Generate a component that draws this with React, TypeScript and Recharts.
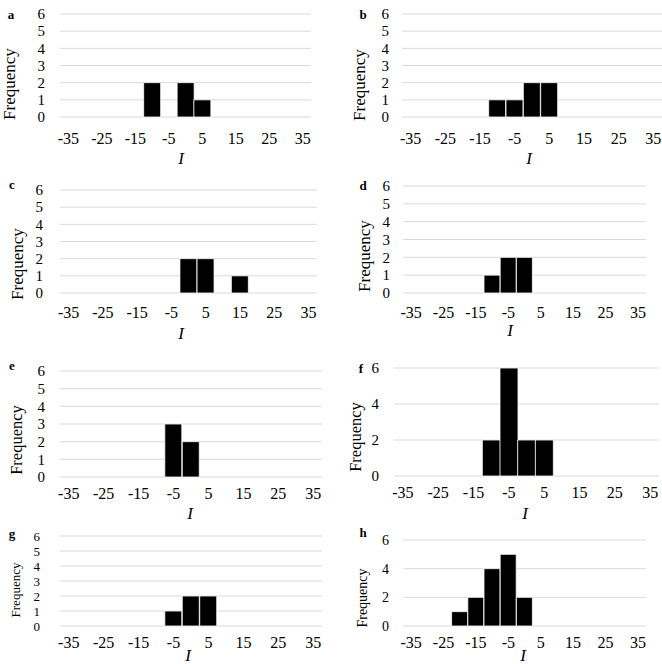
import React from 'react';
import { BarChart, Bar, XAxis, YAxis, CartesianGrid } from 'recharts';

// bin centres of I (width 5)
const bins = [-35, -30, -25, -20, -15, -10, -5, 0, 5, 10, 15, 20, 25, 30, 35];

// frequency per bin for each panel
const countsA = [0, 0, 0, 0, 0, 2, 0, 2, 1, 0, 0, 0, 0, 0, 0];
const countsB = [0, 0, 0, 0, 0, 1, 1, 2, 2, 0, 0, 0, 0, 0, 0];
const countsC = [0, 0, 0, 0, 0, 0, 0, 2, 2, 0, 1, 0, 0, 0, 0];
const countsD = [0, 0, 0, 0, 0, 1, 2, 2, 0, 0, 0, 0, 0, 0, 0];
const countsE = [0, 0, 0, 0, 0, 0, 3, 2, 0, 0, 0, 0, 0, 0, 0];
const countsF = [0, 0, 0, 0, 0, 2, 6, 2, 2, 0, 0, 0, 0, 0, 0];
const countsG = [0, 0, 0, 0, 0, 0, 1, 2, 2, 0, 0, 0, 0, 0, 0];
const countsH = [0, 0, 0, 1, 2, 4, 5, 2, 0, 0, 0, 0, 0, 0, 0];

const ticksFine = [0, 1, 2, 3, 4, 5, 6];
const ticksCoarse = [0, 2, 4, 6];

const FONT = "'Liberation Serif', 'Tinos', 'Times New Roman', 'DejaVu Serif', serif";

interface Panel {
  letter: string;
  counts: number[];
  yTicks: number[];
  col: number; // left of column
  L: number; R: number; T: number; B: number; // plot rect
  xMargin: number; yMargin: number;
  freq: [number, number, number]; // cx, cy, font size
  letterPos: [number, number];
  iPos: [number, number];
  yFont: number;
}

const panels: Panel[] = [
  { letter: 'a', counts: countsA, yTicks: ticksFine, col: 0, L: 60, R: 311, T: 14, B: 117, xMargin: 10, yMargin: 9, freq: [9, 84, 17], letterPos: [11, 14], iPos: [181, 158], yFont: 15 },
  { letter: 'b', counts: countsB, yTicks: ticksFine, col: 331, L: 402, R: 662, T: 14, B: 117, xMargin: 10, yMargin: 7, freq: [359, 85, 17], letterPos: [363, 14], iPos: [529, 158], yFont: 15 },
  { letter: 'c', counts: countsC, yTicks: ticksFine, col: 0, L: 60, R: 317, T: 190, B: 293, xMargin: 8, yMargin: 11, freq: [17, 264, 17], letterPos: [12, 184], iPos: [181, 333], yFont: 15 },
  { letter: 'd', counts: countsD, yTicks: ticksFine, col: 331, L: 403, R: 646, T: 186, B: 293, xMargin: 8, yMargin: 7, freq: [364, 256, 17], letterPos: [363, 185], iPos: [510, 330], yFont: 15 },
  { letter: 'e', counts: countsE, yTicks: ticksFine, col: 0, L: 60, R: 322, T: 371, B: 477, xMargin: 5, yMargin: 9, freq: [17, 440, 16.5], letterPos: [12, 365], iPos: [190, 513], yFont: 15 },
  { letter: 'f', counts: countsF, yTicks: ticksCoarse, col: 331, L: 394, R: 659, T: 368, B: 476, xMargin: 5, yMargin: 9, freq: [356, 437, 16.5], letterPos: [361, 368], iPos: [525, 513], yFont: 15 },
  { letter: 'g', counts: countsG, yTicks: ticksFine, col: 0, L: 60, R: 322, T: 536, B: 626, xMargin: 5, yMargin: 14, freq: [15, 590, 13], letterPos: [12, 533], iPos: [188, 655], yFont: 13 },
  { letter: 'h', counts: countsH, yTicks: ticksCoarse, col: 331, L: 403, R: 646, T: 540, B: 626, xMargin: 5, yMargin: 8, freq: [363, 598, 14], letterPos: [363, 532], iPos: [523, 655], yFont: 14 },
];

const TOP_PAD = 10;
const X_AXIS_H = 30;

const HistPanel: React.FC<{ p: Panel }> = ({ p }) => {
  const data = bins.map((b, i) => ({ bin: b, count: p.counts[i] }));
  const width = p.R - p.col;
  const height = p.B - p.T + TOP_PAD + X_AXIS_H;
  return (
    <>
      <div style={{ position: 'absolute', left: p.col, top: p.T - TOP_PAD, fontFamily: FONT }}>
        <BarChart
          width={width}
          height={height}
          data={data}
          margin={{ top: TOP_PAD, right: 0, left: 0, bottom: 0 }}
          barCategoryGap={0}
        >
          <CartesianGrid vertical={false} stroke="#d9d9d9" strokeWidth={1} />
          <XAxis
            dataKey="bin"
            interval={1}
            axisLine={false}
            tickLine={false}
            height={X_AXIS_H}
            tickMargin={p.xMargin}
            tick={{ fill: '#000', fontSize: 16, fontFamily: FONT }}
          />
          <YAxis
            domain={[0, 6]}
            ticks={p.yTicks}
            interval={0}
            width={p.L - p.col}
            axisLine={false}
            tickLine={false}
            tickMargin={p.yMargin}
            tick={{ fill: '#000', fontSize: p.yFont, fontFamily: FONT }}
          />
          <Bar dataKey="count" fill="#000" stroke="#fff" strokeWidth={0.8} isAnimationActive={false} />
        </BarChart>
      </div>
      <div
        style={{
          position: 'absolute', left: p.letterPos[0], top: p.letterPos[1],
          transform: 'translate(-50%, -50%)', fontFamily: FONT, fontWeight: 'bold', fontSize: 13, lineHeight: 1,
        }}
      >
        {p.letter}
      </div>
      <div
        style={{
          position: 'absolute', left: p.freq[0], top: p.freq[1],
          transform: 'translate(-50%, -50%) rotate(-90deg)', fontFamily: FONT, fontSize: p.freq[2],
          whiteSpace: 'nowrap', lineHeight: 1,
        }}
      >
        Frequency
      </div>
      <div
        style={{
          position: 'absolute', left: p.iPos[0], top: p.iPos[1],
          transform: 'translate(-50%, -50%)', fontFamily: FONT, fontStyle: 'italic', fontSize: 17, lineHeight: 1,
        }}
      >
        I
      </div>
    </>
  );
};

export default function App() {
  return (
    <div style={{ position: 'absolute', left: 0, top: 0, width: 662, height: 664, background: '#fff', overflow: 'hidden', fontFamily: FONT }}>
      {panels.map(p => <HistPanel key={p.letter} p={p} />)}
    </div>
  );
}
